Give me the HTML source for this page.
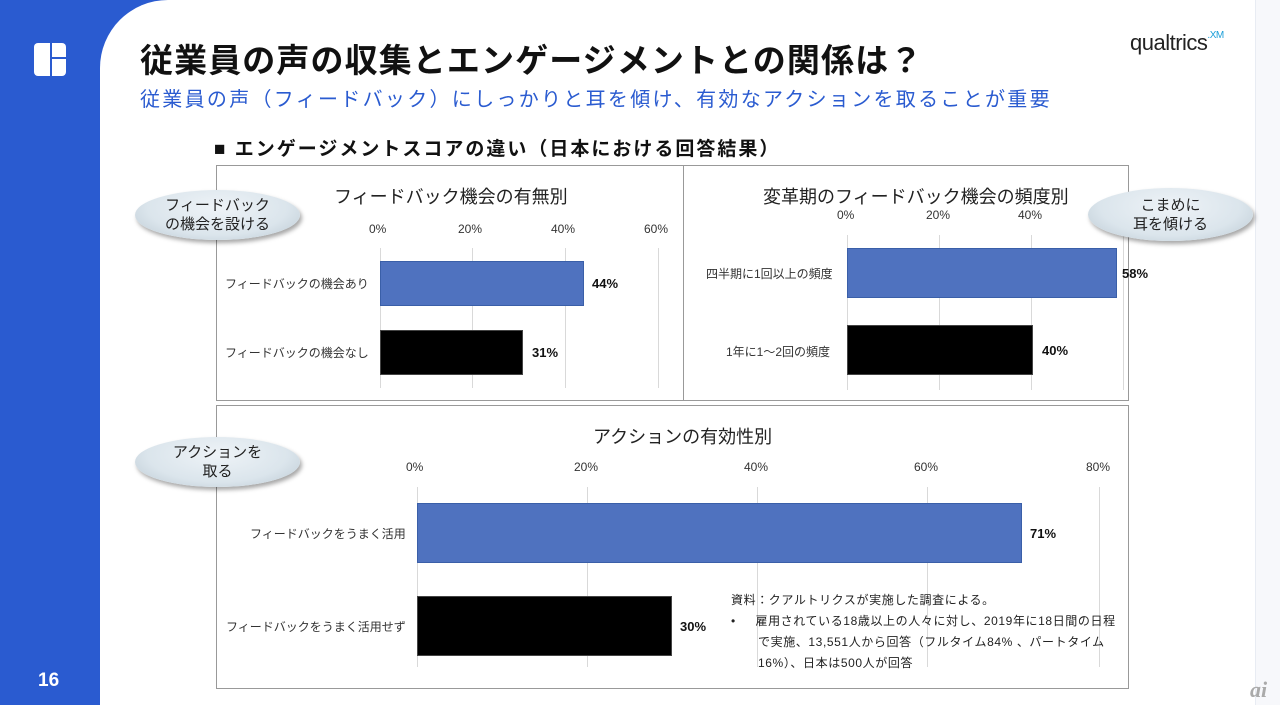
<!DOCTYPE html>
<html><head><meta charset="utf-8"><style>
*{margin:0;padding:0;box-sizing:border-box}
body{width:1280px;height:705px;position:relative;overflow:hidden;background:#fff;font-family:"Liberation Sans","Noto Sans CJK JP",sans-serif;color:#222}
.a{position:absolute;white-space:nowrap}
.box{position:absolute;border:1px solid #999;background:#fff}
.g{position:absolute;width:1px;background:#d9d9d9}
.bar{position:absolute;border:1px solid #3a5fa8}
.blue{background:#4f72bf}
.blk{background:#000;border-color:#444}
.t{font-size:12px;color:#333}
.v{font-size:13px;font-weight:bold;color:#111}
.ell{position:absolute;border-radius:50%;background:radial-gradient(ellipse at 50% 35%,#eef3f7 0%,#dbe5ec 60%,#b9c7d1 100%);box-shadow:2px 3px 4px rgba(0,0,0,.35);text-align:center;font-size:15px;line-height:19px;color:#222;display:flex;align-items:center;justify-content:center}
</style></head><body>
<div class="a" style="left:0;top:0;width:170px;height:705px;background:#2a5bd0"></div>
<div class="a" style="left:100px;top:0;width:1155px;height:705px;background:#fff;border-top-left-radius:68px"></div>
<div class="a" style="left:1255px;top:0;width:25px;height:705px;background:#f7f8fb;border-left:1px solid #e8ecf3"></div>
<div class="a" style="left:34px;top:43px;width:16px;height:33px;background:#fff;border-radius:4px 0 0 4px"></div>
<div class="a" style="left:52px;top:43px;width:14px;height:14px;background:#fff;border-radius:0 4px 0 0"></div>
<div class="a" style="left:52px;top:59px;width:14px;height:17px;background:#fff;border-radius:0 0 4px 0"></div>
<div class="a" style="left:38px;top:670px;font-size:19px;font-weight:bold;color:#fff">16</div>
<div class="a" style="left:140px;top:34px;font-size:33px;font-weight:bold;color:#111;letter-spacing:1.1px">従業員の声の収集とエンゲージメントとの関係は？</div>
<div class="a" style="left:140px;top:83px;font-size:20px;color:#2a5bd0;letter-spacing:2.3px">従業員の声（フィードバック）にしっかりと耳を傾け、有効なアクションを取ることが重要</div>
<div class="a" style="left:1130px;top:30px;font-size:22px;color:#222;letter-spacing:-0.5px">qualtrics<span style="font-size:10px;color:#1a9ed8;vertical-align:top">.XM</span></div>
<div class="a" style="left:214px;top:134px;font-size:19px;font-weight:bold;color:#111;letter-spacing:2px">■ エンゲージメントスコアの違い（日本における回答結果）</div>

<div class="box" style="left:216px;top:165px;width:468px;height:236px"></div>
<div class="box" style="left:683px;top:165px;width:446px;height:236px"></div>
<div class="box" style="left:216px;top:405px;width:913px;height:284px"></div>

<div class="a" style="left:334px;top:183px;font-size:18px">フィードバック機会の有無別</div>
<div class="a t" style="left:369px;top:222px">0%</div>
<div class="a t" style="left:458px;top:222px">20%</div>
<div class="a t" style="left:551px;top:222px">40%</div>
<div class="a t" style="left:644px;top:222px">60%</div>
<div class="g" style="left:380px;top:248px;height:140px"></div>
<div class="g" style="left:472px;top:248px;height:140px"></div>
<div class="g" style="left:565px;top:248px;height:140px"></div>
<div class="g" style="left:658px;top:248px;height:140px"></div>
<div class="bar blue" style="left:380px;top:261px;width:204px;height:45px"></div>
<div class="bar blk" style="left:380px;top:330px;width:143px;height:45px"></div>
<div class="a t" style="left:225px;top:275px">フィードバックの機会あり</div>
<div class="a t" style="left:225px;top:344px">フィードバックの機会なし</div>
<div class="a v" style="left:592px;top:276px">44%</div>
<div class="a v" style="left:532px;top:345px">31%</div>

<div class="a" style="left:763px;top:183px;font-size:18px">変革期のフィードバック機会の頻度別</div>
<div class="a t" style="left:837px;top:208px">0%</div>
<div class="a t" style="left:926px;top:208px">20%</div>
<div class="a t" style="left:1018px;top:208px">40%</div>
<div class="g" style="left:847px;top:235px;height:155px"></div>
<div class="g" style="left:939px;top:235px;height:155px"></div>
<div class="g" style="left:1031px;top:235px;height:155px"></div>
<div class="g" style="left:1123px;top:235px;height:155px"></div>
<div class="bar blue" style="left:847px;top:248px;width:270px;height:50px"></div>
<div class="bar blk" style="left:847px;top:325px;width:186px;height:50px"></div>
<div class="a t" style="left:706px;top:265px">四半期に1回以上の頻度</div>
<div class="a t" style="left:726px;top:343px">1年に1〜2回の頻度</div>
<div class="a v" style="left:1122px;top:266px">58%</div>
<div class="a v" style="left:1042px;top:343px">40%</div>

<div class="a" style="left:593px;top:423px;font-size:18px">アクションの有効性別</div>
<div class="a t" style="left:406px;top:460px">0%</div>
<div class="a t" style="left:574px;top:460px">20%</div>
<div class="a t" style="left:744px;top:460px">40%</div>
<div class="a t" style="left:914px;top:460px">60%</div>
<div class="a t" style="left:1086px;top:460px">80%</div>
<div class="g" style="left:417px;top:487px;height:180px"></div>
<div class="g" style="left:587px;top:487px;height:180px"></div>
<div class="g" style="left:757px;top:487px;height:180px"></div>
<div class="g" style="left:927px;top:487px;height:180px"></div>
<div class="g" style="left:1099px;top:487px;height:180px"></div>
<div class="bar blue" style="left:417px;top:503px;width:605px;height:60px"></div>
<div class="bar blk" style="left:417px;top:596px;width:255px;height:60px"></div>
<div class="a t" style="left:250px;top:525px">フィードバックをうまく活用</div>
<div class="a t" style="left:226px;top:618px">フィードバックをうまく活用せず</div>
<div class="a v" style="left:1030px;top:526px">71%</div>
<div class="a v" style="left:680px;top:619px">30%</div>
<div class="a" style="left:731px;top:590px;font-size:12px;color:#222;line-height:21px;letter-spacing:0.6px">資料：クアルトリクスが実施した調査による。<br>•&nbsp;&nbsp;&nbsp;&nbsp;&nbsp;雇用されている18歳以上の人々に対し、2019年に18日間の日程<br><span style="padding-left:27px">で実施、13,551人から回答（フルタイム84% 、パートタイム</span><br><span style="padding-left:27px">16%）、日本は500人が回答</span></div>

<div class="ell" style="left:135px;top:190px;width:165px;height:50px">フィードバック<br>の機会を設ける</div>
<div class="ell" style="left:1088px;top:188px;width:165px;height:53px">こまめに<br>耳を傾ける</div>
<div class="ell" style="left:135px;top:437px;width:165px;height:50px">アクションを<br>取る</div>
<div class="a" style="left:1250px;top:677px;font-size:22px;font-style:italic;font-weight:bold;color:#aaa;font-family:'Liberation Serif',serif">ai</div>
</body></html>
